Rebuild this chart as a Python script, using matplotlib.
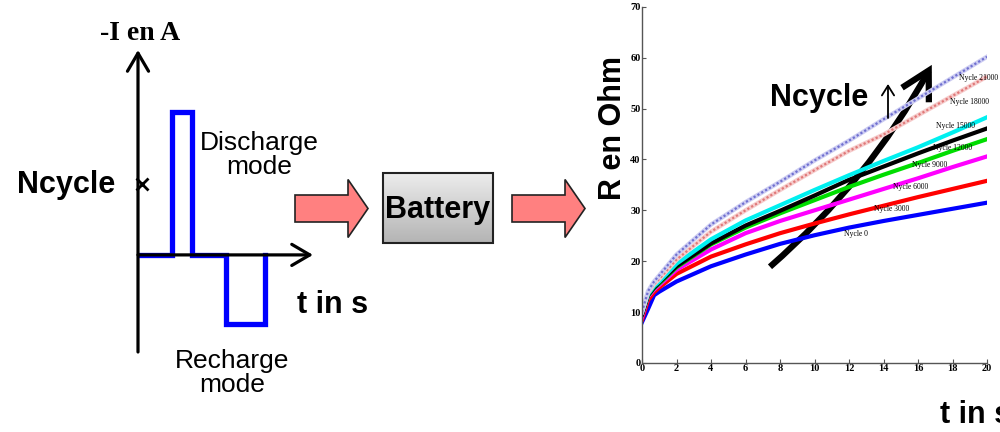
import matplotlib.pyplot as plt
import numpy as np
from matplotlib.colors import LinearSegmentedColormap
from matplotlib.patches import FancyArrow, FancyArrowPatch, Rectangle

# left diagram: current pulse (discharge then recharge)
pulse_t = [0, 1.0, 1.0, 1.6, 1.6, 2.6, 2.6, 3.75, 3.75]
pulse_i = [0, 0, 2.0, 2.0, 0, 0, -0.97, -0.97, 0]

# right chart: resistance vs time for several cycle counts
t = [0, 0.35, 0.7, 1, 2, 4, 6, 8, 10, 12, 14, 16, 18, 20]
cycles = ["Nycle 0", "Nycle 3000", "Nycle 6000", "Nycle 9000",
          "Nycle 12000", "Nycle 15000", "Nycle 18000", "Nycle 21000"]
r_0 = [8, 10.6, 13.3, 14.0, 16.0, 19.0, 21.3, 23.4, 25.1, 26.6, 27.9, 29.1, 30.3, 31.5]
r_3000 = [8.5, 12.3, 13.9, 14.8, 17.5, 20.9, 23.3, 25.5, 27.4, 29.2, 30.9, 32.6, 34.2, 35.8]
r_6000 = [9, 13.0, 14.4, 15.3, 18.3, 22.3, 25.5, 27.9, 30.0, 32.1, 34.2, 36.3, 38.5, 40.6]
r_9000 = [9.5, 13.2, 14.7, 15.6, 18.8, 23.3, 26.6, 29.4, 32.0, 34.6, 37.0, 39.3, 41.7, 44.0]
r_12000 = [9.5, 13.3, 14.8, 15.8, 19.0, 23.5, 27.0, 29.9, 32.9, 36.0, 38.6, 41.2, 43.7, 46.1]
r_15000 = [10, 13.5, 15.1, 16.0, 19.5, 24.3, 28.0, 31.0, 34.0, 36.9, 39.7, 42.4, 45.3, 48.3]
r_18000 = [10, 13.8, 15.5, 16.5, 20.3, 25.8, 30.0, 34.0, 37.9, 41.7, 44.9, 48.7, 52.5, 56.3]
r_21000 = [10, 14.1, 16.0, 17.2, 21.3, 27.2, 31.6, 35.6, 39.8, 43.7, 47.9, 52.0, 56.1, 60.2]

series = [r_0, r_3000, r_6000, r_9000, r_12000, r_15000, r_18000, r_21000]
colors = ["#0000ff", "#ff0000", "#ff00ff", "#00dd00", "#000000", "#00f0f0",
          "#e07878", "#7070d0"]
label_xy = [(12.4, 25.3), (14.5, 30.2), (15.6, 34.6), (16.7, 38.9),
            (18.0, 42.3), (18.2, 46.5), (19.0, 51.3), (19.5, 56.1)]

sans = "Liberation Sans"
serif = "Liberation Serif"

fig = plt.figure(figsize=(10, 4.32), dpi=100)

# ---- overlay in pixel coordinates for the schematic parts ----
ov = fig.add_axes([0, 0, 1, 1])
ov.axis("off")

# ---- left pulse diagram ----
axl = fig.add_axes([0.138, 1 - 352 / 432, 0.175, (352 - 50) / 432])
axl.set_xlim(0, 5.15)
axl.set_ylim(-1.36, 2.87)
axl.axis("off")
axl.plot(pulse_t, pulse_i, color="#0000ff", lw=3.8, solid_joinstyle="miter",
         zorder=2)
arrow_style = "->,head_length=0.65,head_width=0.38"
axl.annotate("", xy=(0, 2.87), xytext=(0, -1.36),
             arrowprops=dict(arrowstyle=arrow_style, lw=2.3, color="black",
                             mutation_scale=20, shrinkA=0, shrinkB=0),
             annotation_clip=False, zorder=3)
axl.annotate("", xy=(5.15, 0), xytext=(0, 0),
             arrowprops=dict(arrowstyle=arrow_style, lw=2.3, color="black",
                             mutation_scale=20, shrinkA=0, shrinkB=0),
             annotation_clip=False, zorder=3)
axl.plot([0.13], [1.0], marker="x", color="black", ms=8, mew=2, zorder=4,
         clip_on=False)

ov.text(100, 33, "-I en A", fontsize=20, fontweight="bold", family=serif,
        ha="left", va="center")
ov.text(17, 185, "Ncycle", fontsize=22, fontweight="bold", family=sans,
        ha="left", va="center")
ov.text(259, 155, "Discharge\nmode", fontsize=19, family=sans, ha="center",
        va="center", linespacing=1.05)
ov.text(232, 373, "Recharge\nmode", fontsize=19, family=sans, ha="center",
        va="center", linespacing=1.05)
ov.text(297, 305, "t in s", fontsize=22, fontweight="bold", family=sans,
        ha="left", va="center")

# ---- block arrows and battery ----
for x0 in (295, 512):
    ov.add_patch(FancyArrow(x0, 208.5, 73, 0, width=27, head_width=58,
                            head_length=20, length_includes_head=True,
                            facecolor="#ff8080", edgecolor="#222222", lw=1.2))

grad = np.linspace(0, 1, 100).reshape(-1, 1)
ov.imshow(grad, cmap=LinearSegmentedColormap.from_list(
    "g", ["#ececec", "#b4b4b4"]), extent=(383, 493, 243, 173), aspect="auto",
    zorder=1)
ov.add_patch(Rectangle((383, 173), 110, 70, fill=False, edgecolor="#222222",
                       lw=1.5, zorder=2))
ov.text(438, 210, "Battery", fontsize=22, fontweight="bold", family=sans,
        ha="center", va="center", zorder=3)
ov.set_xlim(0, 1000)
ov.set_ylim(432, 0)

# ---- right chart ----
ax = fig.add_axes([0.642, 0.160, 0.345, 0.824])
for r, c in zip(series, colors):
    if c == "#e07878":
        ax.plot(t, r, color="#f6cccc", lw=3.2)
        ax.plot(t, r, color=c, lw=1.6, ls=(0, (1, 1)))
    elif c == "#7070d0":
        ax.plot(t, r, color="#cdcdf2", lw=3.2)
        ax.plot(t, r, color=c, lw=1.6, ls=(0, (1, 1)))
    else:
        ax.plot(t, r, color=c, lw=3.0)
for name, (lx, ly) in zip(cycles, label_xy):
    ax.text(lx, ly, name, fontsize=5.5, family=serif, ha="center", va="center")

ax.set_xlim(0, 20)
ax.set_ylim(0, 70)
ax.set_xticks(range(0, 21, 2))
ax.set_yticks(range(0, 71, 10))
for s in ("top", "right"):
    ax.spines[s].set_visible(False)
for s in ("left", "bottom"):
    ax.spines[s].set_color("#555555")
    ax.spines[s].set_linewidth(1.0)
ax.tick_params(direction="in", length=3, width=0.8, color="#555555", pad=1)
for lab in ax.get_xticklabels() + ax.get_yticklabels():
    lab.set_family(serif)
    lab.set_fontweight("bold")
    lab.set_fontsize(7.5)

ax.add_patch(FancyArrowPatch((7.42, 18.9), (16.8, 58.6),
                             connectionstyle="arc3,rad=0.09",
                             arrowstyle="->,head_length=1.0,head_width=0.55",
                             mutation_scale=20, lw=4.5, color="black",
                             shrinkA=0, shrinkB=0,
                             capstyle="butt", joinstyle="miter"))

ov2 = fig.add_axes([0, 0, 1, 1], facecolor="none")
ov2.set_xlim(0, 1000)
ov2.set_ylim(432, 0)
ov2.axis("off")
ov2.text(770, 98, "Ncycle", fontsize=22, fontweight="bold", family=sans,
         ha="left", va="center")
ov2.annotate("", xy=(888, 84), xytext=(888, 118),
             arrowprops=dict(arrowstyle="->,head_length=0.35,head_width=0.22",
                             lw=1.3, color="black", mutation_scale=20,
                             shrinkA=0, shrinkB=0))
ov2.text(613, 128, "R en Ohm", fontsize=22, fontweight="bold", family=sans,
         ha="center", va="center", rotation=90)
ov2.text(940, 415, "t in s", fontsize=22, fontweight="bold", family=sans,
         ha="left", va="center")

fig.savefig("out.png", dpi=100, facecolor="white")
